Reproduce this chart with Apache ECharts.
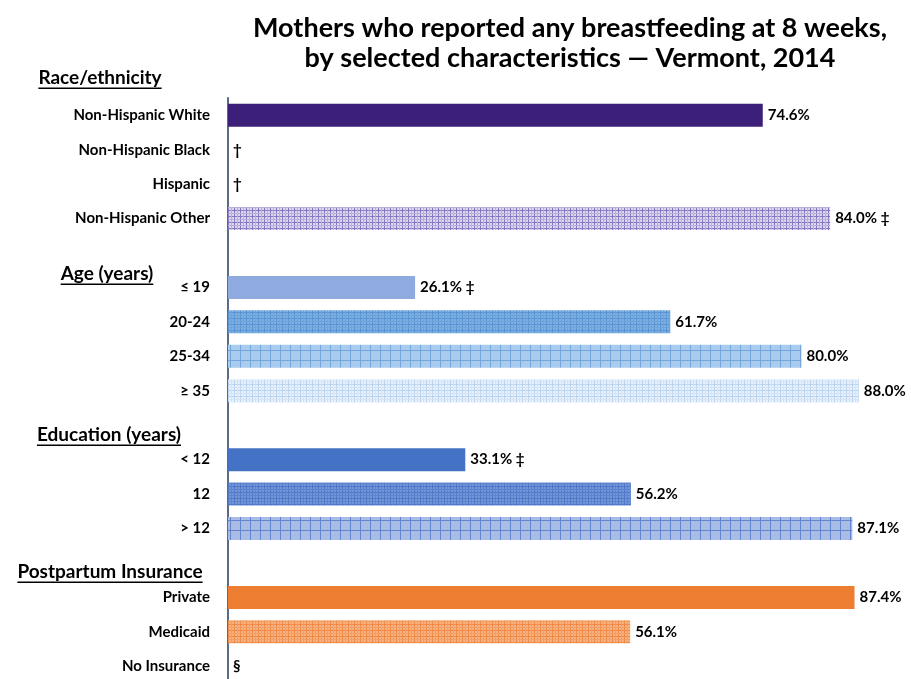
<!DOCTYPE html>
<html>
<head>
<meta charset="utf-8">
<script src="https://cdn.jsdelivr.net/npm/echarts@6/dist/echarts.min.js"></script>
<style>
  html, body { margin: 0; padding: 0; background: #fff; }
  #chart { width: 911px; height: 679px; }
</style>
</head>
<body>
<div id="chart"></div>
<script>
// 数据
const categories = [
  'Non-Hispanic White', 'Non-Hispanic Black', 'Hispanic', 'Non-Hispanic Other', '',
  '≤ 19', '20-24', '25-34', '≥ 35', '',
  '< 12', '12', '> 12', '',
  'Private', 'Medicaid', 'No Insurance'
]
const values = [74.6, null, null, 84.0, null, 26.1, 61.7, 80.0, 88.0, null, 33.1, 56.2, 87.1, null, 87.4, 56.1, null]
const notes = ['', '†', '†', '‡', '', '‡', '', '', '', '', '‡', '', '', '', '', '', '§']
const groupHeaders = ['Race/ethnicity', 'Age (years)', 'Education (years)', 'Postpartum Insurance']

const FONT = 'Lato'

// 填充图案
function pattern(bg, lines, size) {
  const c = document.createElement('canvas')
  c.width = size
  c.height = size
  const ctx = c.getContext('2d')
  ctx.fillStyle = bg
  ctx.fillRect(0, 0, size, size)
  lines.forEach(l => {
    ctx.fillStyle = l.color
    ctx.fillRect(l.pos, 0, 1, size)
    ctx.fillRect(0, l.pos, size, 1)
  })
  return { image: c, repeat: 'repeat' }
}

const styles = [
  '#3b1f78',
  null,
  null,
  pattern('#ddd6ee', [{ pos: 0, color: '#8577c0' }, { pos: 3, color: '#b8aedb' }], 6),
  null,
  '#8eaadf',
  pattern('#7cb0e2', [{ pos: 0, color: '#5a93d3' }, { pos: 3, color: '#6ca3da' }], 6),
  pattern('#a9cbee', [{ pos: 0, color: '#74a6dc' }], 10),
  pattern('#e8f1fb', [{ pos: 0, color: '#b8d3f0' }, { pos: 3, color: '#d3e4f6' }], 6),
  null,
  '#4472c4',
  pattern('#7296d8', [{ pos: 0, color: '#4f76c7' }, { pos: 3, color: '#5e83cd' }], 6),
  pattern('#a8bce6', [{ pos: 0, color: '#6384ce' }], 10),
  null,
  '#ed7d31',
  pattern('#f6b283', [{ pos: 0, color: '#ee8843' }, { pos: 3, color: '#f29d62' }], 6),
  null
]

const seriesData = values.map((v, i) => {
  if (v == null && !notes[i]) return null
  return {
    value: v == null ? 0 : v,
    note: notes[i],
    itemStyle: { color: styles[i] || 'transparent' }
  }
})

// 分组标题 + 下划线
const headerPos = [[100, 78], [107, 274], [109, 435], [110, 572]]
const measure = document.createElement('canvas').getContext('2d')
measure.font = 'bold 19px ' + FONT
const graphics = []
groupHeaders.forEach((t, i) => {
  const w = measure.measureText(t).width
  const [cx, cy] = headerPos[i]
  graphics.push({
    type: 'text',
    x: cx,
    y: cy,
    style: {
      text: t,
      fill: '#000',
      font: 'bold 19px ' + FONT,
      textAlign: 'center',
      textVerticalAlign: 'middle'
    }
  })
  graphics.push({
    type: 'rect',
    shape: { x: cx - w / 2, y: cy + 9.5, width: w, height: 1.5 },
    style: { fill: '#000' }
  })
})

const myChart = echarts.init(document.getElementById('chart'))
const option = {
  animation: false,
  title: {
    text: 'Mothers who reported any breastfeeding at 8 weeks,\nby selected characteristics — Vermont, 2014',
    left: 565,
    top: 8,
    textAlign: 'center',
    textStyle: {
      fontFamily: FONT,
      fontSize: 27,
      fontWeight: 'bold',
      lineHeight: 30,
      color: '#000'
    }
  },
  graphic: graphics,
  grid: {
    left: 228,
    top: 98,
    width: 681,
    height: 585.5,
    outerBoundsMode: 'none'
  },
  xAxis: {
    type: 'value',
    min: 0,
    max: 95,
    show: false,
    splitLine: { show: false }
  },
  yAxis: {
    type: 'category',
    inverse: true,
    data: categories,
    axisTick: { show: false },
    axisLine: { lineStyle: { color: '#5b6b86', width: 2 } },
    axisLabel: {
      margin: 18,
      color: '#000',
      fontFamily: FONT,
      fontSize: 15,
      fontWeight: 'bold'
    }
  },
  series: [
    {
      type: 'bar',
      barWidth: 23,
      data: seriesData,
      label: {
        show: true,
        position: 'right',
        distance: 5,
        color: '#000',
        fontFamily: FONT,
        fontSize: 15,
        fontWeight: 'bold',
        formatter: function (p) {
          const d = p.data
          if (!d) return ''
          if (!d.value) return d.note
          return d.value.toFixed(1) + '%' + (d.note ? ' ' + d.note : '')
        }
      }
    }
  ]
}
myChart.setOption(option)
</script>
</body>
</html>
